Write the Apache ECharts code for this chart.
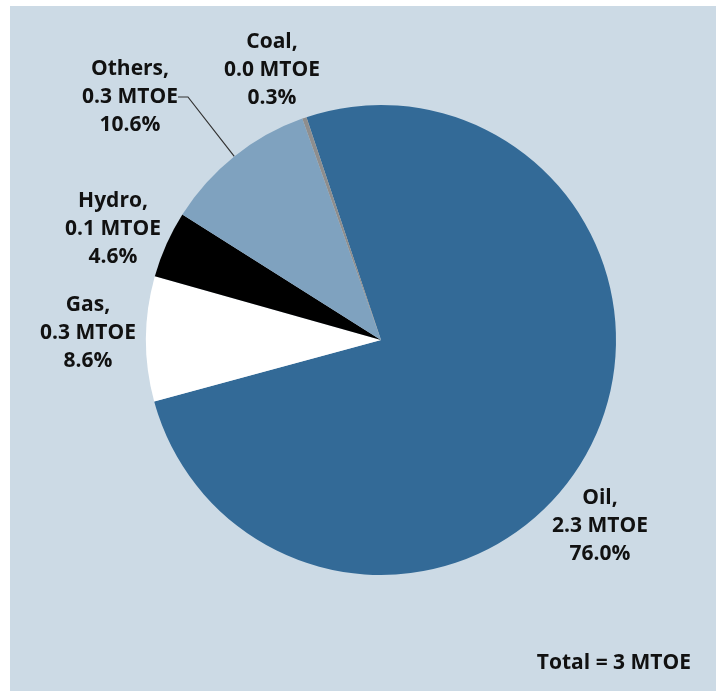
<!DOCTYPE html>
<html>
<head>
<meta charset="utf-8">
<script src="https://cdn.jsdelivr.net/npm/echarts@6/dist/echarts.min.js"></script>
<style>
  html, body { margin: 0; padding: 0; background: #ffffff; }
  #chart { position: absolute; left: 10px; top: 6px; width: 706px; height: 685px; }
</style>
</head>
<body>
<div id="chart"></div>
<script>
// Energy mix, in clockwise order from the top
const categories = ['Oil', 'Gas', 'Hydro', 'Others', 'Coal'];
const mtoe = ['2.3', '0.3', '0.1', '0.3', '0.0'];
const shares = [76.0, 8.6, 4.6, 10.6, 0.3];
const totalText = 'Total = 3 MTOE';

const sliceColors = ['#336a97', '#ffffff', '#000000', '#7fa2bf', '#8e8e8e'];
// label block centres (chart-relative pixels)
const labelAnchors = [[590, 520], [78, 327], [103, 223], [120, 91], [262, 64]];

const chart = echarts.init(document.getElementById('chart'));
const font = '"Open Sans", sans-serif';

chart.setOption({
  backgroundColor: '#ccdae5',
  animation: false,
  title: {
    text: totalText,
    right: 20,
    bottom: 12,
    textStyle: { fontFamily: font, fontSize: 21, fontWeight: 700, color: '#111111' }
  },
  series: [{
    type: 'pie',
    center: [371, 334],
    radius: 235,
    startAngle: 108.5,
    clockwise: true,
    silent: true,
    data: categories.map((name, i) => ({
      name: name,
      value: shares[i],
      itemStyle: { color: sliceColors[i] },
      labelLine: { show: name === 'Others' }
    })),
    label: {
      show: true,
      overflow: 'none',
      fontFamily: font,
      fontSize: 21,
      fontWeight: 700,
      lineHeight: 28,
      color: '#111111',
      align: 'center',
      formatter: p => categories[p.dataIndex] + ',\n' + mtoe[p.dataIndex] + ' MTOE\n' + shares[p.dataIndex].toFixed(1) + '%'
    },
    labelLine: {
      show: false,
      length: 10,
      length2: 10,
      lineStyle: { color: '#333333', width: 1.2 }
    },
    labelLayout: p => ({
      x: labelAnchors[p.dataIndex][0],
      y: labelAnchors[p.dataIndex][1],
      align: 'center',
      verticalAlign: 'middle'
    })
  }]
});
</script>
</body>
</html>
